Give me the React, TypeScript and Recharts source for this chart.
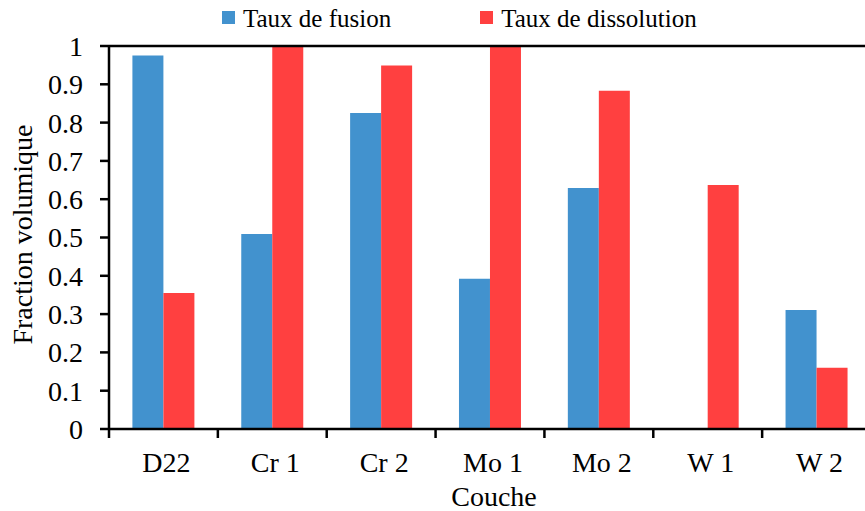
import { BarChart, Bar, XAxis, YAxis, Legend, ReferenceLine } from 'recharts'

const CATEGORIES = ['D22', 'Cr 1', 'Cr 2', 'Mo 1', 'Mo 2', 'W 1', 'W 2']
const FUSION = [0.975, 0.509, 0.825, 0.392, 0.629, 0, 0.311]
const DISSOLUTION = [0.355, 1.0, 0.949, 1.0, 0.883, 0.637, 0.16]
const SERIES_NAMES = ['Taux de fusion', 'Taux de dissolution']
const Y_TICKS = [0, 0.1, 0.2, 0.3, 0.4, 0.5, 0.6, 0.7, 0.8, 0.9, 1]

const BLUE = '#4292ce'
const RED = '#ff4040'
const FONT = '"Times New Roman", "Liberation Serif", "DejaVu Serif", serif'

const data = CATEGORIES.map((c, i) => ({
  name: c,
  fusion: FUSION[i],
  dissolution: DISSOLUTION[i],
}))

function LegendContent({ payload }: { payload?: { value: string; color: string }[] }) {
  if (!payload) return null
  const items = [...payload].sort((a, b) => SERIES_NAMES.indexOf(a.value) - SERIES_NAMES.indexOf(b.value))
  return (
    <div style={{ position: 'absolute', top: 5, left: 222, display: 'flex', alignItems: 'center', fontSize: 25, color: '#000', fontFamily: FONT, whiteSpace: 'nowrap' }}>
      {items.map((p, i) => (
        <div key={i} style={{ display: 'flex', alignItems: 'center', marginRight: i === 0 ? 89 : 0 }}>
          <span style={{ width: 13, height: 13, background: p.color, marginRight: 8, marginTop: -4 }} />
          <span>{p.value}</span>
        </div>
      ))}
    </div>
  )
}

// category label plus a tick mark on the left edge of each band
function CatTick({ x, y, payload }: { x?: number; y?: number; payload?: { value: string; offset?: number } }) {
  if (x == null || y == null || !payload) return null
  const half = payload.offset ?? 54.43
  return (
    <g>
      <line x1={x - half} x2={x - half} y1={y - 9} y2={y} stroke="#000" strokeWidth={2.5} />
      <text x={x + 3} y={y + 14} dy="0.71em" textAnchor="middle" fontSize={28} fill="#000" fontFamily={FONT}>
        {payload.value}
      </text>
    </g>
  )
}

function YTitle({ viewBox }: { viewBox?: { x: number; y: number; width: number; height: number } }) {
  if (!viewBox) return null
  const cx = 32
  const cy = viewBox.y + viewBox.height / 2 - 3
  return (
    <text x={cx} y={cy} transform={`rotate(-90 ${cx} ${cy})`} textAnchor="middle" fontSize={28} fill="#000" fontFamily={FONT}>
      Fraction volumique
    </text>
  )
}

function XTitle({ viewBox }: { viewBox?: { x: number; y: number; width: number; height: number } }) {
  if (!viewBox) return null
  return (
    <text x={viewBox.x + viewBox.width / 2 + 4} y={viewBox.y + 77} textAnchor="middle" fontSize={28} fill="#000" fontFamily={FONT}>
      Couche
    </text>
  )
}

export default function App() {
  return (
    <div style={{ position: 'absolute', left: 0, top: 0, width: 865, height: 511, overflow: 'hidden', background: '#fff', fontFamily: FONT }}>
      <BarChart
        width={871}
        height={511}
        data={data}
        margin={{ top: 46, right: 0, bottom: 0, left: 0 }}
        barCategoryGap="21.5%"
        barGap={0}
        style={{ fontFamily: FONT }}
      >
        <XAxis
          dataKey="name"
          height={82}
          axisLine={{ stroke: '#000', strokeWidth: 2.5 }}
          tickLine={false}
          tickSize={9}
          tickMargin={0}
          interval={0}
          tick={<CatTick />}
          label={<XTitle />}
        />
        <YAxis
          width={109}
          domain={[0, 1]}
          ticks={Y_TICKS}
          interval={0}
          axisLine={{ stroke: '#000', strokeWidth: 2.5 }}
          tickLine={{ stroke: '#000', strokeWidth: 2.5 }}
          tickSize={9}
          tickMargin={17}
          tick={{ fill: '#000', fontSize: 28, fontFamily: FONT }}
          tickFormatter={(v: number) => String(Math.round(v * 10) / 10)}
          label={<YTitle />}
        />
        <ReferenceLine y={1} stroke="#000" strokeWidth={2.5} />
        <Legend layout="horizontal" verticalAlign="middle" align="center" wrapperStyle={{ top: 0, left: 0, width: 865, height: 40 }} content={<LegendContent />} />
        <Bar dataKey="fusion" name={SERIES_NAMES[0]} fill={BLUE} isAnimationActive={false} />
        <Bar dataKey="dissolution" name={SERIES_NAMES[1]} fill={RED} isAnimationActive={false} />
      </BarChart>
    </div>
  )
}
